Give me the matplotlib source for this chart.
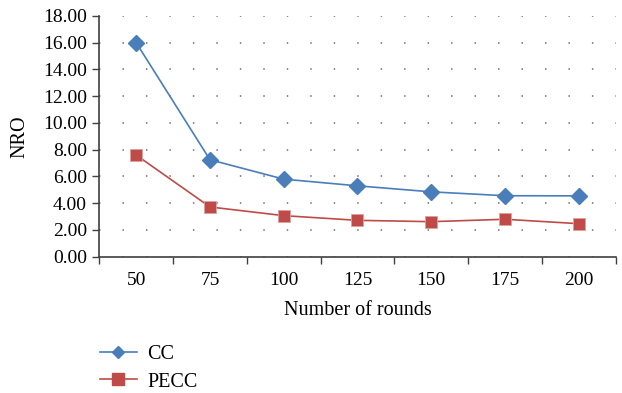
import matplotlib
matplotlib.use("Agg")
import matplotlib.pyplot as plt
from matplotlib.lines import Line2D

plt.rcParams['font.family'] = ['Liberation Serif', 'DejaVu Serif']

rounds = ["50", "75", "100", "125", "150", "175", "200"]
cc = [16.0, 7.25, 5.8, 5.3, 4.85, 4.56, 4.55]
pecc = [7.6, 3.72, 3.07, 2.72, 2.62, 2.8, 2.47]
yticks = [0, 2, 4, 6, 8, 10, 12, 14, 16, 18]

blue = "#4a7ebb"
red = "#be4b48"
axis_col = "#404040"

fig = plt.figure(figsize=(6.22, 3.93), dpi=100)
ax = fig.add_axes([0.1597, 0.3468, 0.83, 0.6125])

x = list(range(len(rounds)))
ax.plot(x, cc, color=blue, lw=1.2, marker="D", ms=8, mfc=blue, mec=blue, label="CC")
ax.plot(x, pecc, color=red, lw=1.2, marker="s", ms=9, mfc=red, mec="#e0a0a0", mew=0.6, label="PECC")

ax.set_xlim(-0.5, len(rounds) - 0.5)
ax.set_ylim(0, 18)
ax.set_yticks(yticks)
ax.set_yticklabels([f"{v:.2f}" for v in yticks])
ax.set_xticks(x)
ax.set_xticklabels(rounds)
ax.set_xticks([i + 0.5 for i in range(-1, len(rounds))], minor=True)
ax.tick_params(axis="x", which="major", length=0, pad=11, labelsize=14)
ax.tick_params(axis="x", which="minor", length=5, width=1, color=axis_col, direction="out")
ax.tick_params(axis="y", length=5, width=1, color=axis_col, labelsize=14, pad=4)

for s in ["top", "right"]:
    ax.spines[s].set_visible(False)
for s in ["left", "bottom"]:
    ax.spines[s].set_color(axis_col)
    ax.spines[s].set_linewidth(1.2)

ax.yaxis.grid(True, linestyle=(0, (0.8, 12.2)), color="#808080", linewidth=1.3)
ax.set_axisbelow(True)

ax.set_xlabel("Number of rounds", fontsize=14.5, labelpad=9)
ax.set_ylabel("NRO", fontsize=14.5, labelpad=10)

handles = [
    Line2D([], [], color=blue, lw=1.2, marker="D", ms=6.5, mfc=blue, mec=blue),
    Line2D([], [], color=red, lw=1.2, marker="s", ms=8, mfc=red, mec=red),
]
fig.legend(handles, ["CC", "PECC"], loc="upper left", bbox_to_anchor=(0.145, 0.147),
           frameon=False, fontsize=14.5, handlelength=1.8, labelspacing=0.4,
           borderpad=0, handletextpad=0.55)

fig.savefig("out.png", dpi=100)
